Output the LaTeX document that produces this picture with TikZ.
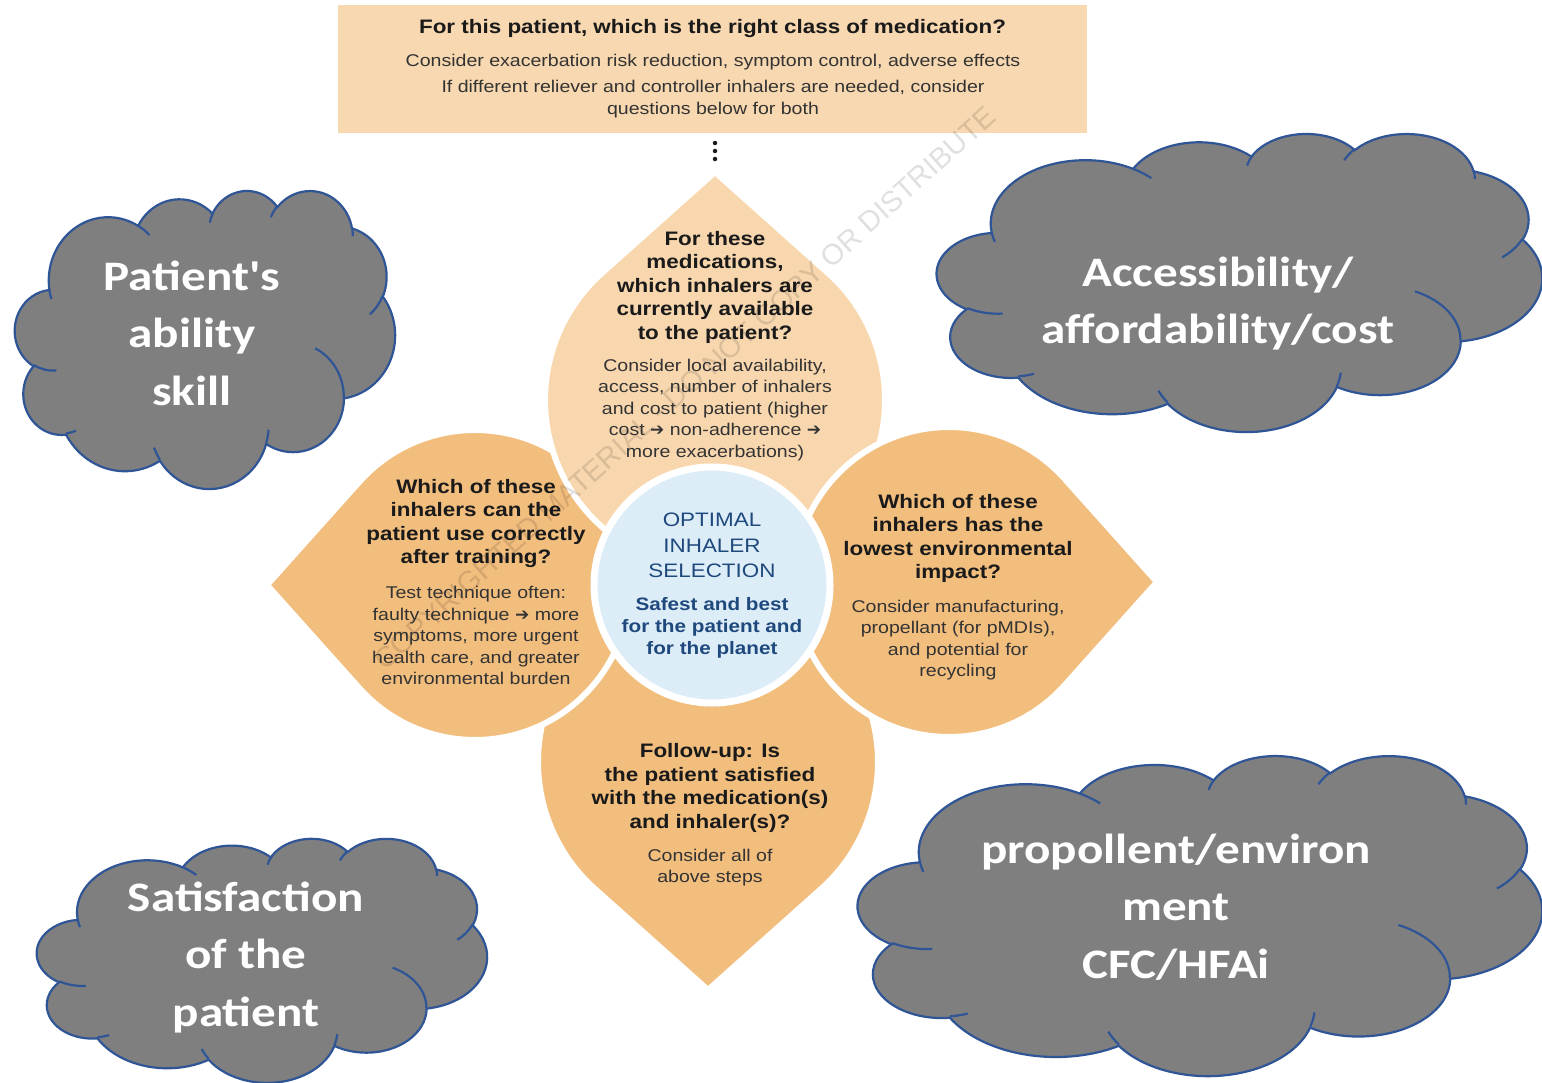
\documentclass[tikz,border=0pt]{standalone}
\usepackage{fontspec}
\setmainfont{Liberation Sans}
\newfontfamily\flowerfont[FakeStretch=1.15]{Liberation Sans}
\newfontfamily\cloudfont[FakeStretch=1.17]{Carlito}
\newfontfamily\arrowfont{DejaVu Sans}
\usetikzlibrary{calc}

\definecolor{boxpeach}{HTML}{F8D8B0}
\definecolor{toppeach}{HTML}{F8D7AE}
\definecolor{petalorange}{HTML}{F2BE7E}
\definecolor{centerblue}{HTML}{DCEDF8}
\definecolor{bluetext}{HTML}{1F497D}
\definecolor{headgray}{HTML}{1A1A1A}
\definecolor{bodygray}{HTML}{333333}
\definecolor{cloudgray}{HTML}{7F7F7F}
\definecolor{cloudblue}{HTML}{2F5597}

% ---- DrawingML "cloud" preset: convert visual angles to parametric ----
\newcommand\setarc[5]{%
  \pgfmathsetmacro\tmpa{#4}%
  \pgfmathsetmacro\tmpt{atan2((#2)*sin(\tmpa),(#3)*cos(\tmpa))}%
  \pgfmathsetmacro\tmpt{\tmpt+360*round((\tmpa-\tmpt)/360)}%
  \expandafter\xdef\csname #1s\endcsname{\tmpt}%
  \pgfmathsetmacro\tmpa{#4+#5}%
  \pgfmathsetmacro\tmpt{atan2((#2)*sin(\tmpa),(#3)*cos(\tmpa))}%
  \pgfmathsetmacro\tmpt{\tmpt+360*round((\tmpa-\tmpt)/360)}%
  \expandafter\xdef\csname #1e\endcsname{\tmpt}%
  \expandafter\xdef\csname #1x\endcsname{#2}%
  \expandafter\xdef\csname #1y\endcsname{#3}%
}
\setarc{clA}{67.53}{91.90}{-190.4875}{123.7805}
\setarc{clB}{53.33}{72.67}{-144.1024}{89.9452}
\setarc{clC}{43.65}{59.45}{-145.8079}{99.7230}
\setarc{clD}{48.57}{65.95}{-130.9861}{117.2417}
\setarc{clE}{53.33}{72.73}{-78.7089}{109.0269}
\setarc{clF}{67.75}{92.20}{-46.2673}{130.2690}
\setarc{clG}{57.85}{78.67}{0.6250}{114.0333}
\setarc{clH}{67.52}{92.15}{22.4516}{115.1726}
\setarc{clI}{77.20}{105.43}{66.2426}{75.7110}
\setarc{clJ}{43.60}{59.18}{-274.9421}{146.7356}
\setarc{clK}{43.45}{59.45}{-246.8285}{152.5189}
\setarc{inA}{43.45}{59.45}{86.7420}{26.4295}
\setarc{inB}{43.60}{59.18}{73.6105}{11.4475}
\setarc{inC}{67.52}{92.15}{137.6242}{14.0811}
\setarc{inD}{67.52}{92.15}{6.4533}{15.9984}
\setarc{inE}{57.85}{78.67}{-70.2924}{70.9174}
\setarc{inF}{53.33}{72.73}{30.3180}{27.7515}
\setarc{inG}{48.57}{65.95}{-13.7443}{14.8589}
\setarc{inH}{48.57}{65.95}{-149.1815}{18.1954}
\setarc{inI}{43.65}{59.45}{-163.4943}{17.6864}
\setarc{inJ}{67.53}{91.90}{-66.7070}{12.3194}
\setarc{inK}{67.53}{91.90}{157.6544}{11.8582}

\newcommand\carc[1]{arc[x radius=\csname #1x\endcsname, y radius=\csname #1y\endcsname, start angle=\csname #1s\endcsname, end angle=\csname #1e\endcsname]}

\newcommand\cloudshape[4]{% x0 y0 W H
  \begin{scope}[shift={(#1,#2)}, xscale=#3/432, yscale=#4/432]
    \path[cloudbody] (39.00,143.70) \carc{clA} \carc{clB} \carc{clC} \carc{clD}
      \carc{clE} \carc{clF} \carc{clG} \carc{clH} \carc{clI} \carc{clJ} \carc{clK} -- cycle;
    \path[cloudline] (46.93,261.77) \carc{inA} (69.28,348.99) \carc{inB}
      (164.78,390.90) \carc{inC} (288.27,347.51) \carc{inD}
      (341.29,229.54) \carc{inE} (417.98,153.54) \carc{inF}
      (383.24,54.26) \carc{inG} (290.78,39.52) \carc{inH}
      (221.41,47.20) \carc{inI} (140.00,51.92) \carc{inJ}
      (41.27,157.89) \carc{inK};
  \end{scope}}

% petal: name, cx, cy, dir, r, d, colour
\newcommand\petal[7]{%
  \pgfmathsetmacro\ptA{acos(#5/#6)}%
  \pgfmathsetmacro\ptS{#4+\ptA}%
  \pgfmathsetmacro\ptE{#4-\ptA+360}%
  \draw[petalstyle, fill=#7] (#2,#3) ++(#4:#6) coordinate (#1)
    -- ($(#2,#3)+(\ptS:#5)$) arc[start angle=\ptS, end angle=\ptE, radius=#5] -- cycle;}

\tikzset{
  petalstyle/.style={draw=white, line width=6pt, line join=round},
  headtxt/.style={align=center, inner sep=0pt, text=headgray,
    font=\flowerfont\bfseries\fontsize{19.5}{23.5}\selectfont},
  bodytxt/.style={align=center, inner sep=0pt, text=bodygray,
    font=\flowerfont\fontsize{17}{21.5}\selectfont},
  cloudbody/.style={fill=cloudgray, draw=cloudblue, line width=2.2pt},
  cloudline/.style={draw=cloudblue, line width=2.2pt},
  cloudtxt/.style={align=center, inner sep=0pt, text=white,
    font=\cloudfont\bfseries\fontsize{42}{57.5}\selectfont},
  dotstyle/.style={circle, fill=headgray, inner sep=0pt, minimum size=4.5pt},
}
\newcommand\arw{{\arrowfont\bfseries\char"2794}}

\begin{document}
\begin{tikzpicture}[x=1pt, y=-1pt]
\useasboundingbox (0,0) rectangle (1542,1082);
\fill[white] (0,0) rectangle (1542,1082);

% top box
\node[draw=none, fill=boxpeach, minimum width=749pt, minimum height=128pt, inner sep=0pt] (topbox) at (712.5,69) {};
\node[inner sep=0pt, text=headgray, font=\flowerfont\bfseries\fontsize{19.5}{22}\selectfont] (toptitle) at (712.5,28) {For this patient, which is the right class of medication?};
\node[inner sep=0pt, text=bodygray, font=\flowerfont\fontsize{17}{22}\selectfont] (topline1) at (713,62) {Consider exacerbation risk reduction, symptom control, adverse effects};
\node[align=center, inner sep=0pt, text=bodygray, font=\flowerfont\fontsize{17}{22}\selectfont] (topline2) at (713,99) {If different reliever and controller inhalers are needed, consider\\questions below for both};

% dots
\node[dotstyle] (d1) at (715,143) {};
\node[dotstyle] (d2) at (715,151) {};
\node[dotstyle] (d3) at (715,159) {};

% petals (drawing order gives the overlaps)
\petal{bottomtip}{708}{762}{90}{170}{228}{petalorange}
\petal{lefttip}{475}{585}{180}{155}{208}{petalorange}
\petal{toptip}{715}{400}{-90}{170}{228}{toppeach}
\petal{righttip}{949}{582}{0}{155}{208}{petalorange}

% centre circle
\node[circle, fill=centerblue, draw=white, line width=7pt, minimum size=236pt, inner sep=0pt] (centre) at (712,585) {};

% watermark
\node[rotate=42, inner sep=0pt, text=black, opacity=0.12, font=\fontsize{29}{32}\selectfont] (wm) at (685,388) {COPYRIGHTED MATERIAL - DO NOT COPY OR DISTRIBUTE};

% petal texts
\node[headtxt] (tophead) at (715,287) {For these\\medications,\\which inhalers are\\currently available\\to the patient?};
\node[bodytxt] (topbody) at (715,410) {Consider local availability,\\access, number of inhalers\\and cost to patient (higher\\cost \arw{} non-adherence \arw\\more exacerbations)};

\node[headtxt] (lefthead) at (476,523.5) {Which of these\\inhalers can the\\patient use correctly\\after training?};
\node[bodytxt] (leftbody) at (476,635.5) {Test technique often:\\faulty technique \arw{} more\\symptoms, more urgent\\health care, and greater\\environmental burden};

\node[headtxt] (righthead) at (958,538.5) {Which of these\\inhalers has the\\lowest environmental\\impact?};
\node[bodytxt] (rightbody) at (958,640) {Consider manufacturing,\\propellant (for pMDIs),\\and potential for\\recycling};

\node[headtxt] (bottomhead) at (710,788) {Follow-up: Is\\the patient satisfied\\with the medication(s)\\and inhaler(s)?};
\node[bodytxt] (bottombody) at (710,867.5) {Consider all of\\above steps};

\node[align=center, inner sep=0pt, text=bluetext, font=\flowerfont\fontsize{19.5}{25.5}\selectfont] (centrehead) at (712,545.5) {OPTIMAL\\INHALER\\SELECTION};
\node[align=center, inner sep=0pt, text=bluetext, font=\flowerfont\bfseries\fontsize{18}{22}\selectfont] (centrebody) at (712,628) {Safest and best\\for the patient and\\for the planet};

% clouds
\cloudshape{15}{190}{380}{298}
\node[cloudtxt] (cloudA) at (192,333) {Patient's\\ability\\skill};
\cloudshape{937}{133}{605}{298}
\node[cloudtxt] (cloudB) at (1218,303.5) {Accessibility/\\affordability/cost};
\cloudshape{858}{755}{684}{320}
\node[cloudtxt] (cloudC) at (1176,907) {propollent/environ\\ment\\CFC/HFAi};
\cloudshape{37}{838}{450}{244}
\node[cloudtxt] (cloudD) at (246,957.5) {Satisfaction\\of the\\patient};
\end{tikzpicture}
\end{document}
